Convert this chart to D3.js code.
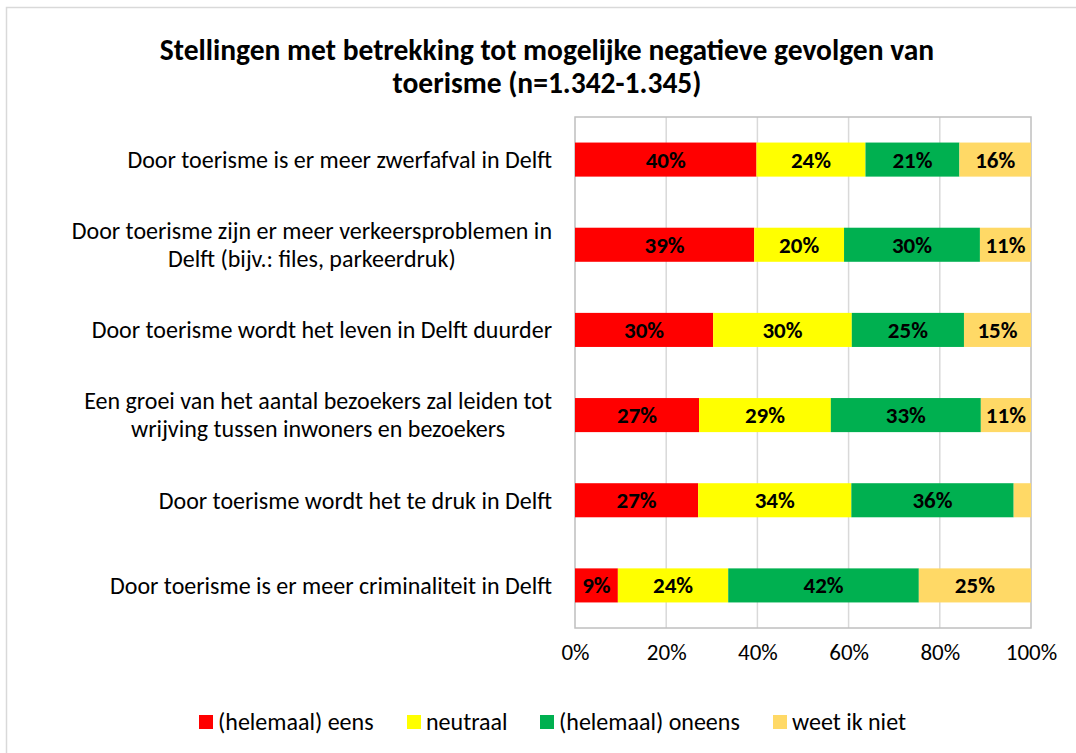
<!DOCTYPE html>
<html>
<head>
<meta charset="utf-8">
<script src="https://cdn.jsdelivr.net/npm/d3@7"></script>
<style>
  body { margin: 0; background: #fff; }
  svg text { font-family: Carlito, Calibri, "Liberation Sans", Arial, sans-serif; }
</style>
</head>
<body>
<div class="content"></div>
<script>
// statements, top to bottom (each entry = the lines as drawn)
var categories = [
  ["Door toerisme is er meer zwerfafval in Delft"],
  ["Door toerisme zijn er meer verkeersproblemen in", "Delft (bijv.: files, parkeerdruk)"],
  ["Door toerisme wordt het leven in Delft duurder"],
  ["Een groei van het aantal bezoekers zal leiden tot", "wrijving tussen inwoners en bezoekers"],
  ["Door toerisme wordt het te druk in Delft"],
  ["Door toerisme is er meer criminaliteit in Delft"]
];
var seriesNames = ["(helemaal) eens", "neutraal", "(helemaal) oneens", "weet ik niet"];
var seriesColors = ["#ff0000", "#ffff00", "#00b050", "#ffd966"];

// percentages (labels show the rounded value)
var eens   = [39.8, 39.3, 30.3, 27.2, 27.0, 9.4];
var neutr  = [23.9, 19.7, 30.4, 28.9, 33.6, 24.2];
var oneens = [20.6, 29.8, 24.6, 32.9, 35.6, 41.8];
var weetNi = [15.7, 11.2, 14.7, 11.0, 3.8, 24.6];

var xTicks = [0, 20, 40, 60, 80, 100];
var title = ["Stellingen met betrekking tot mogelijke negatieve gevolgen van", "toerisme (n=1.342-1.345)"];

var W = 1076, H = 753;
var plot = {left: 575, right: 1031, top: 117, bottom: 628};

var rows = categories.map(function(c, i) {
  return {lines: c, key: i, eens: eens[i], neutr: neutr[i], oneens: oneens[i], weet: weetNi[i]};
});
var keys = ["eens", "neutr", "oneens", "weet"];

var svg = d3.select(".content")
  .append("svg")
  .attr("width", W)
  .attr("height", H)

// chart frame (only top and left edges visible in the crop)
svg.append("path")
  .attr("d", "M6.5," + H + "V7.5H" + W)
  .attr("fill", "none")
  .attr("stroke", "#d9d9d9")
  .attr("stroke-width", 1.5)

var x = d3.scaleLinear().domain([0, 100]).range([plot.left, plot.right]);
var y = d3.scaleBand().domain(d3.range(rows.length)).range([plot.top, plot.bottom]).paddingInner(0.6).paddingOuter(0.3);

// gridlines
svg.append("g").selectAll("line")
  .data(xTicks.slice(1, -1))
  .enter().append("line")
  .attr("x1", function(d) { return x(d); })
  .attr("x2", function(d) { return x(d); })
  .attr("y1", plot.top)
  .attr("y2", plot.bottom)
  .attr("stroke", "#d9d9d9")
  .attr("stroke-width", 1.5)

// plot area border
svg.append("rect")
  .attr("x", plot.left)
  .attr("y", plot.top)
  .attr("width", plot.right - plot.left)
  .attr("height", plot.bottom - plot.top)
  .attr("fill", "none")
  .attr("stroke", "#bfbfbf")
  .attr("stroke-width", 1.5)

var stacked = d3.stack().keys(keys)(rows);

var layer = svg.append("g").selectAll("g")
  .data(stacked)
  .enter().append("g")
  .attr("fill", function(d, i) { return seriesColors[i]; })

layer.selectAll("rect")
  .data(function(d) { return d; })
  .enter().append("rect")
  .attr("x", function(d) { return x(d[0]); })
  .attr("width", function(d) { return x(d[1]) - x(d[0]); })
  .attr("y", function(d) { return y(d.data.key); })
  .attr("height", y.bandwidth())

layer.selectAll("text")
  .data(function(d) { return d.filter(function(s) { return s[1] - s[0] >= 5; }); })
  .enter().append("text")
  .text(function(d) { return Math.round(d[1] - d[0]) + "%"; })
  .attr("x", function(d) { return (x(d[0]) + x(d[1])) / 2; })
  .attr("y", function(d) { return y(d.data.key) + y.bandwidth() / 2; })
  .attr("dy", "0.35em")
  .attr("text-anchor", "middle")
  .attr("fill", "#000")
  .style("font-weight", "bold")
  .style("font-size", "23px")

// x axis labels
var xAxis = svg.append("g")
  .attr("transform", "translate(0," + plot.bottom + ")")
  .call(d3.axisBottom(x).tickValues(xTicks).tickFormat(function(d) { return d + "%"; }).tickSize(0).tickPadding(32))
xAxis.select(".domain").remove();
xAxis.selectAll("text")
  .attr("fill", "#000")
  .style("font-size", "23px")
  .attr("dy", "0")

// category labels, lines centred on each other, block right aligned
var catG = svg.append("g").selectAll("text")
  .data(rows)
  .enter().append("text")
  .attr("text-anchor", "middle")
  .attr("fill", "#000")
  .style("font-size", "24px")

catG.each(function(d) {
  var t = d3.select(this);
  var n = d.lines.length;
  var cy = y(d.key) + y.bandwidth() / 2;
  d.lines.forEach(function(l, j) {
    t.append("tspan").text(l)
      .attr("y", cy + (j - (n - 1) / 2) * 28)
      .attr("dy", "0.35em")
  });
  var maxW = 0;
  t.selectAll("tspan").each(function() { maxW = Math.max(maxW, this.getComputedTextLength()); });
  t.selectAll("tspan").attr("x", 552 - maxW / 2);
});

// title
svg.append("text")
  .attr("text-anchor", "middle")
  .attr("fill", "#000")
  .style("font-weight", "bold")
  .style("font-size", "29.5px")
  .selectAll("tspan")
  .data(title)
  .enter().append("tspan")
  .attr("x", 547)
  .attr("y", function(d, i) { return 50 + i * 33; })
  .attr("dy", "0.35em")
  .text(function(d) { return d; })

// legend
var legendX = [199, 407, 540, 773];
var leg = svg.append("g").selectAll("g")
  .data(seriesNames)
  .enter().append("g")
  .attr("transform", function(d, i) { return "translate(" + legendX[i] + ",722)"; })

leg.append("rect")
  .attr("x", 0)
  .attr("y", -7)
  .attr("width", 14)
  .attr("height", 14)
  .attr("fill", function(d, i) { return seriesColors[i]; })

leg.append("text")
  .text(function(d) { return d; })
  .attr("x", 19)
  .attr("dy", "0.35em")
  .attr("fill", "#000")
  .style("font-size", "24px")
</script>
</body>
</html>
